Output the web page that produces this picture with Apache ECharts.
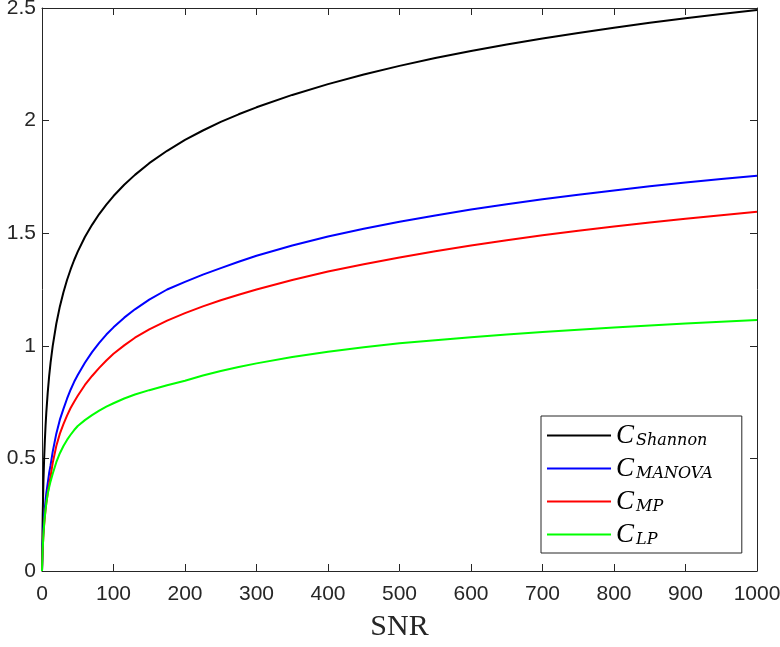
<!DOCTYPE html>
<html>
<head>
<meta charset="utf-8">
<script src="https://cdn.jsdelivr.net/npm/echarts@6/dist/echarts.min.js"></script>
<style>
html,body{margin:0;padding:0;background:#fff;}
#chart{width:780px;height:647px;}
</style>
</head>
<body>
<div id="chart"></div>
<script>
// SNR sample points
const snr = [0, 1, 2, 3, 4, 5, 6, 8, 10, 12, 15, 20, 25, 30, 35, 40, 45, 50, 60, 70, 80, 90, 100, 115, 130, 150, 175, 200, 225, 250, 275, 300, 350, 400, 450, 500, 550, 600, 650, 700, 750, 800, 850, 900, 950, 1000];
// Capacity curves
const cShannon = [0, 0.25, 0.396, 0.5, 0.58, 0.646, 0.702, 0.792, 0.865, 0.925, 1.0, 1.098, 1.175, 1.238, 1.292, 1.339, 1.381, 1.418, 1.483, 1.537, 1.585, 1.627, 1.665, 1.715, 1.759, 1.811, 1.866, 1.914, 1.956, 1.994, 2.028, 2.059, 2.114, 2.162, 2.205, 2.243, 2.278, 2.309, 2.338, 2.365, 2.389, 2.412, 2.434, 2.454, 2.473, 2.491];
const cManova  = [0, 0.12, 0.19, 0.24, 0.28, 0.315, 0.345, 0.39, 0.435, 0.47, 0.53, 0.61, 0.672, 0.72, 0.765, 0.805, 0.84, 0.87, 0.925, 0.972, 1.013, 1.05, 1.082, 1.125, 1.162, 1.205, 1.25, 1.284, 1.316, 1.345, 1.373, 1.40, 1.445, 1.485, 1.52, 1.551, 1.579, 1.605, 1.629, 1.651, 1.671, 1.69, 1.708, 1.725, 1.741, 1.755];
const cMP      = [0, 0.10, 0.16, 0.205, 0.24, 0.272, 0.30, 0.345, 0.385, 0.42, 0.48, 0.555, 0.61, 0.652, 0.69, 0.724, 0.752, 0.778, 0.826, 0.866, 0.902, 0.935, 0.965, 1.002, 1.036, 1.073, 1.112, 1.145, 1.175, 1.202, 1.227, 1.25, 1.292, 1.33, 1.362, 1.392, 1.42, 1.445, 1.469, 1.491, 1.511, 1.53, 1.547, 1.564, 1.58, 1.595];
const cLP      = [0, 0.10, 0.16, 0.21, 0.245, 0.275, 0.30, 0.343, 0.372, 0.398, 0.432, 0.483, 0.523, 0.555, 0.582, 0.605, 0.626, 0.644, 0.67, 0.692, 0.712, 0.73, 0.745, 0.766, 0.784, 0.803, 0.825, 0.845, 0.868, 0.888, 0.906, 0.922, 0.95, 0.974, 0.994, 1.011, 1.025, 1.038, 1.05, 1.061, 1.071, 1.081, 1.09, 1.099, 1.107, 1.115];

const seriesNames = ['Shannon', 'MANOVA', 'MP', 'LP'];
const seriesColors = ['#000000', '#0000ff', '#ff0000', '#00ff00'];
const seriesValues = [cShannon, cManova, cMP, cLP];

const axisColor = '#262626';
const tickLen = 7;

const chart = echarts.init(document.getElementById('chart'), null, {renderer: 'canvas'});

const baseX = {
  type: 'value', min: 0, max: 1000, interval: 100,
  axisLine: {show: true, onZero: false, lineStyle: {color: axisColor, width: 1}},
  axisTick: {show: true, inside: true, length: tickLen, lineStyle: {color: axisColor, width: 1}},
  splitLine: {show: false}
};
const baseY = {
  type: 'value', min: 0, max: 2.5, interval: 0.5,
  axisLine: {show: true, onZero: false, lineStyle: {color: axisColor, width: 1}},
  axisTick: {show: true, inside: true, length: tickLen, lineStyle: {color: axisColor, width: 1}},
  splitLine: {show: false}
};

const option = {
  backgroundColor: '#ffffff',
  animation: false,
  grid: {left: 42, right: 23, top: 8, bottom: 76, containLabel: false, outerBoundsMode: 'none'},
  xAxis: [
    Object.assign({}, baseX, {
      position: 'bottom',
      name: 'SNR', nameLocation: 'middle', nameGap: 41,
      nameTextStyle: {fontFamily: 'Liberation Serif', fontSize: 30, color: axisColor},
      axisLabel: {show: true, margin: 13, fontFamily: 'Liberation Sans', fontSize: 21, color: axisColor,
        formatter: function (v) { return String(v); }}
    }),
    Object.assign({}, baseX, {position: 'top', axisLabel: {show: false}})
  ],
  yAxis: [
    Object.assign({}, baseY, {
      position: 'left',
      axisLabel: {show: true, margin: 6, fontFamily: 'Liberation Sans', fontSize: 21, color: axisColor}
    }),
    Object.assign({}, baseY, {position: 'right', axisLabel: {show: false}})
  ],
  legend: {
    orient: 'vertical',
    left: 541, top: 416,
    padding: [6, 29, 5, 6],
    itemGap: 6,
    itemWidth: 64, itemHeight: 2,
    icon: 'rect',
    backgroundColor: '#ffffff',
    borderColor: axisColor, borderWidth: 1,
    data: seriesNames,
    formatter: function (name) { return '{c|C}{s|' + name + '}'; },
    textStyle: {
      color: '#000',
      rich: {
        c: {fontFamily: 'Liberation Serif', fontStyle: 'italic', fontSize: 27, lineHeight: 27, color: '#000'},
        s: {fontFamily: 'DejaVu Serif', fontStyle: 'italic', fontSize: 16, lineHeight: 27, padding: [10, 0, 0, 2], color: '#000'}
      }
    }
  },
  series: seriesNames.map(function (name, i) {
    return {
      name: name,
      type: 'line',
      xAxisIndex: 0, yAxisIndex: 0,
      data: snr.map(function (x, k) { return [x, seriesValues[i][k]]; }),
      showSymbol: false,
      symbol: 'none',
      smooth: false,
      lineStyle: {color: seriesColors[i], width: 2},
      itemStyle: {color: seriesColors[i]}
    };
  })
};
chart.setOption(option);
</script>
</body>
</html>
